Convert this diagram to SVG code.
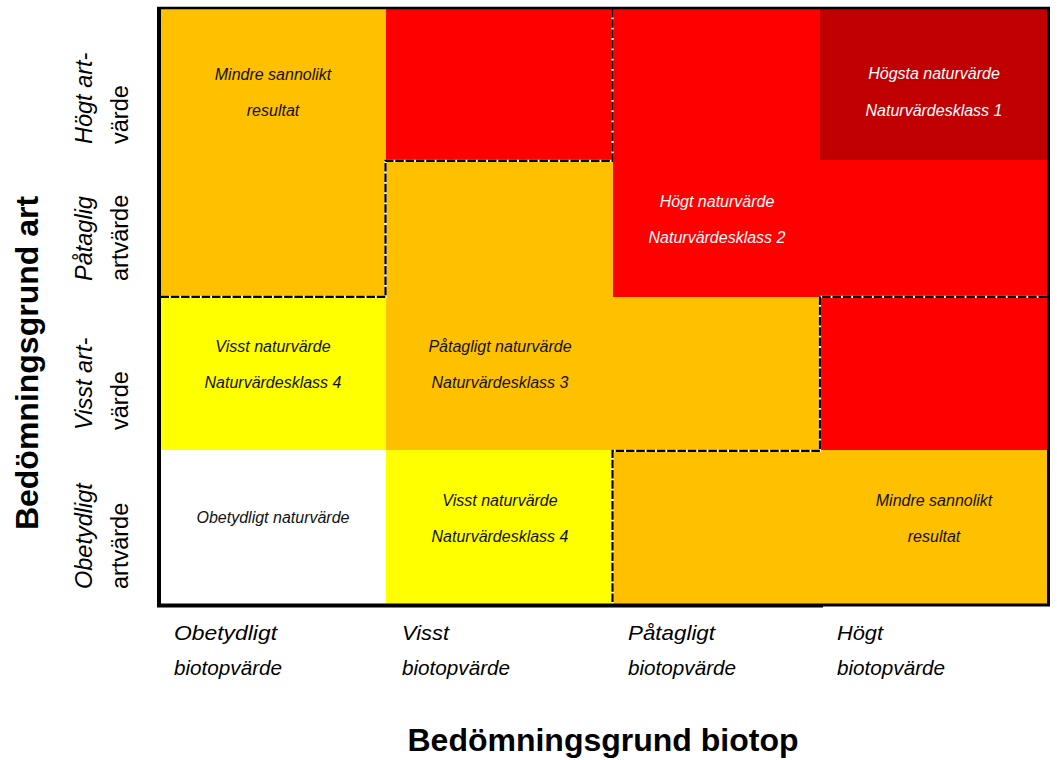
<svg xmlns="http://www.w3.org/2000/svg" width="1057" height="760" viewBox="0 0 1057 760">
<style>
.o{fill:#FFC000}.r{fill:#FF0000}.dr{fill:#C00000}.y{fill:#FFFF00}.w{fill:#FFFFFF}
.ct{font-family:"Liberation Sans",Arial,sans-serif;font-size:16px;font-style:italic;text-anchor:middle;fill:#111}
.cw{fill:#FFFFFF}
.lb{font-family:"Liberation Sans",Arial,sans-serif;font-size:21px;font-style:italic;fill:#000}
.rl{font-family:"Liberation Sans",Arial,sans-serif;font-size:23.5px;fill:#000}
.it{font-style:italic}
.ti{font-family:"Liberation Sans",Arial,sans-serif;font-size:32px;font-weight:bold;text-anchor:middle;fill:#000}
.dw{fill:none;stroke:#FFFFFF;stroke-width:2.2}
.dk{fill:none;stroke:#000;stroke-width:2.2;stroke-dasharray:8.5 1.8}
</style>
<rect width="1057" height="760" fill="#FFFFFF"/>
<g id="cells">
<g id="r1c1"><rect class="o" x="161" y="9" width="225" height="151"/><text class="ct" x="273" y="80">Mindre sannolikt</text><text class="ct" x="273" y="116">resultat</text></g>
<g id="r1c2"><rect class="r" x="386" y="9" width="227" height="151"/></g>
<g id="r1c3"><rect class="r" x="613" y="9" width="207" height="151"/></g>
<g id="r1c4"><rect class="dr" x="820" y="9" width="227" height="151"/><text class="ct cw" x="934" y="79">Högsta naturvärde</text><text class="ct cw" x="934" y="116">Naturvärdesklass 1</text></g>
<g id="r2c1"><rect class="o" x="161" y="160" width="225" height="137"/></g>
<g id="r2c2"><rect class="o" x="386" y="160" width="227" height="137"/></g>
<g id="r2c3"><rect class="r" x="613" y="160" width="207" height="137"/><text class="ct cw" x="717" y="207">Högt naturvärde</text><text class="ct cw" x="717" y="243">Naturvärdesklass 2</text></g>
<g id="r2c4"><rect class="r" x="820" y="160" width="227" height="137"/></g>
<g id="r3c1"><rect class="y" x="161" y="297" width="225" height="153"/><text class="ct" x="273" y="352">Visst naturvärde</text><text class="ct" x="273" y="388">Naturvärdesklass 4</text></g>
<g id="r3c2"><rect class="o" x="386" y="297" width="227" height="153"/><text class="ct" x="500" y="352">Påtagligt naturvärde</text><text class="ct" x="500" y="388">Naturvärdesklass 3</text></g>
<g id="r3c3"><rect class="o" x="613" y="297" width="207" height="153"/></g>
<g id="r3c4"><rect class="r" x="820" y="297" width="227" height="153"/></g>
<g id="r4c1"><rect class="w" x="161" y="450" width="225" height="154"/><text class="ct" x="273" y="523">Obetydligt naturvärde</text></g>
<g id="r4c2"><rect class="y" x="386" y="450" width="227" height="154"/><text class="ct" x="500" y="506">Visst naturvärde</text><text class="ct" x="500" y="542">Naturvärdesklass 4</text></g>
<g id="r4c3"><rect class="o" x="613" y="450" width="207" height="154"/></g>
<g id="r4c4"><rect class="o" x="820" y="450" width="227" height="154"/><text class="ct" x="934" y="506">Mindre sannolikt</text><text class="ct" x="934" y="542">resultat</text></g>
</g>
<g id="connectors">
<path class="dw" d="M612.5 9 V160.8 H385.5 V296.8 H161"/>
<path class="dk" d="M612.5 9 V160.8 H385.5 V296.8 H161"/>
<path class="dw" d="M1047 296.8 H820 V450.8 H612.5 V604"/>
<path class="dk" d="M1047 296.8 H820 V450.8 H612.5 V604"/>
</g>
<g id="frame" fill="none" stroke="#000">
<path d="M159 7 V607" stroke-width="4"/>
<path d="M157 8 H1050" stroke-width="2.5"/>
<path d="M1048.5 7 V606" stroke-width="3"/>
<path d="M157 605.5 H823" stroke-width="4"/>
<path d="M823 605 H1050" stroke-width="3"/>
</g>
<g id="row-labels">
<text class="rl" transform="translate(92,144) rotate(-90)"><tspan class="it">Högt art-</tspan></text>
<text class="rl" transform="translate(128,144) rotate(-90)">värde</text>
<text class="rl" transform="translate(92,281) rotate(-90)"><tspan class="it">Påtaglig</tspan></text>
<text class="rl" transform="translate(128,281) rotate(-90)">artvärde</text>
<text class="rl" transform="translate(92,430) rotate(-90)"><tspan class="it">Visst art-</tspan></text>
<text class="rl" transform="translate(128,430) rotate(-90)">värde</text>
<text class="rl" transform="translate(92,589) rotate(-90)"><tspan class="it">Obetydligt</tspan></text>
<text class="rl" transform="translate(128,589) rotate(-90)">artvärde</text>
</g>
<g id="col-labels">
<text class="lb" x="174" y="640" textLength="103" lengthAdjust="spacingAndGlyphs">Obetydligt</text><text class="lb" x="174" y="675" textLength="108" lengthAdjust="spacingAndGlyphs">biotopvärde</text>
<text class="lb" x="402" y="640" textLength="47" lengthAdjust="spacingAndGlyphs">Visst</text><text class="lb" x="402" y="675" textLength="108" lengthAdjust="spacingAndGlyphs">biotopvärde</text>
<text class="lb" x="628" y="640" textLength="87" lengthAdjust="spacingAndGlyphs">Påtagligt</text><text class="lb" x="628" y="675" textLength="108" lengthAdjust="spacingAndGlyphs">biotopvärde</text>
<text class="lb" x="837" y="640" textLength="46" lengthAdjust="spacingAndGlyphs">Högt</text><text class="lb" x="837" y="675" textLength="108" lengthAdjust="spacingAndGlyphs">biotopvärde</text>
</g>
<g id="titles">
<text class="ti" transform="translate(38,363) rotate(-90)">Bedömningsgrund art</text>
<text class="ti" x="603" y="751">Bedömningsgrund biotop</text>
</g>
</svg>
